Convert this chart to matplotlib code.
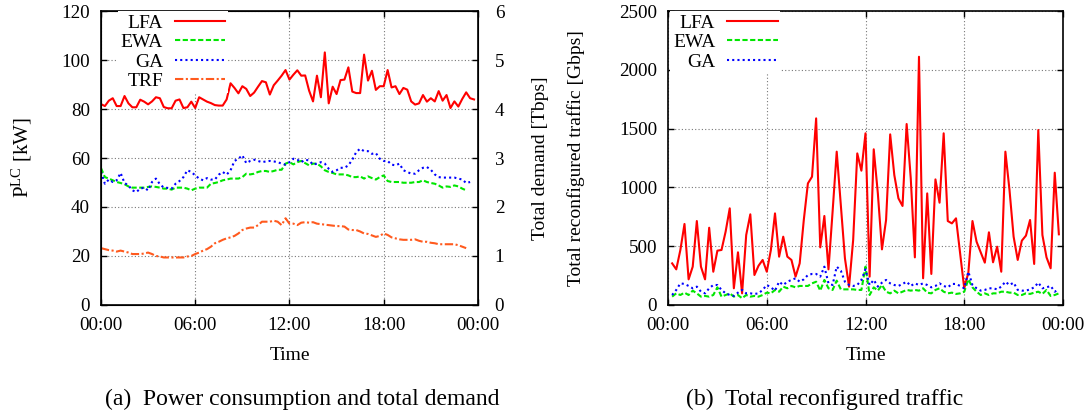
import numpy as np
import matplotlib
matplotlib.use("Agg")
import matplotlib.pyplot as plt

plt.rcParams['font.family'] = ['Liberation Serif', 'DejaVu Serif']
plt.rcParams['mathtext.fontset'] = 'custom'
plt.rcParams['mathtext.rm'] = 'Liberation Serif'
plt.rcParams['mathtext.it'] = 'Liberation Serif:italic'

# power consumption of the line cards [kW], one sample every 15 min from 00:00
lfa_kw = [82, 81.2, 83.4, 84.4, 81.2, 81.2, 85.3, 82.3, 80.7, 80.7, 83.8, 83, 81.9, 83.1,
          84.8, 84.4, 80.8, 80.3, 80.3, 83.4, 83.9, 80.4, 80.7, 83, 80.4, 84.8, 83.9, 83,
          82.4, 81.6, 81.4, 81.4, 83.9, 90.5, 88.6, 86.4, 89.3, 88.2, 85.3, 86.7, 89.1, 91.4,
          90.9, 85.9, 89.7, 91.6, 93.6, 95.9, 92, 94, 95.8, 93.6, 93.7, 87.5, 83.1, 93.6,
          84.8, 103.1, 82.3, 89.1, 86.1, 91.8, 92, 97, 87.1, 86.5, 86.5, 102.2, 91.6, 95.6,
          87.8, 89.3, 89.3, 95.9, 88.8, 89.3, 86.1, 88.6, 87.9, 83.1, 81.8, 82.3, 85.7, 83,
          84.4, 83.1, 87.3, 83.4, 85.7, 80.4, 83.1, 81, 84.1, 86.8, 84.4, 83.9]
ewa_kw = [55.9, 52.2, 51.6, 50.9, 50.2, 49.8, 49.3, 48.4, 47.9, 47.9, 47.9, 47.9, 48.2, 48.4,
          48.2, 47.9, 47.5, 47.5, 47.1, 47.9, 47.9, 47.9, 47.5, 46.8, 47.5, 47.9, 47.9, 47.9,
          49.5, 49.8, 50.2, 50.9, 51.2, 51.6, 51.6, 51.6, 52.2, 53.6, 53.3, 53.6, 54.3, 54.7,
          54.7, 54.3, 54.7, 55.2, 55.2, 57.7, 58.3, 57.4, 58.3, 58.8, 57.9, 57, 57.7, 57.7,
          56.6, 55, 54.3, 53.9, 53.3, 53.3, 53.3, 52.9, 52.2, 52.2, 52.5, 51.6, 52.5, 51.8,
          51.2, 52.2, 52.9, 50.6, 50.2, 50.2, 50.2, 49.9, 49.9, 49.9, 50.2, 50.2, 50.9, 50.2,
          49.8, 49.5, 48.8, 47.9, 48.4, 48.2, 48.8, 48.4, 47.5, 46.8]
ga_kw = [54.3, 49.5, 51.2, 50.2, 50.9, 53.9, 49.8, 48.8, 46.8, 46.1, 47.5, 47.9, 46.8, 50.2,
         51.6, 49.3, 47.9, 47.8, 47.5, 49.5, 50.6, 52.2, 55, 54.3, 52.9, 51.6, 50.9, 51.8,
         51.2, 51.2, 53.2, 54.3, 53.2, 55, 58.8, 59.7, 61.1, 57.9, 58.8, 59.3, 58.8, 58.3,
         58.6, 58.8, 58.6, 58.3, 57.7, 57.3, 58.3, 59.7, 59.3, 58.3, 59.3, 59, 57.3, 57.7,
         58.3, 57.7, 55.6, 54.3, 55, 56, 56, 57, 59.3, 62.4, 63.8, 62.8, 62.8, 61.7, 62,
         59.7, 58.8, 58.8, 57.3, 57, 57.7, 55, 54.3, 53.6, 53.6, 55, 56, 56.3, 55.2, 53.3,
         52.2, 52, 52, 52, 52, 51.6, 51.2, 49.8, 50.2]
# total traffic demand [Tbps]
trf_tbps = [1.16, 1.14, 1.12, 1.11, 1.09, 1.11, 1.09, 1.07, 1.04, 1.04, 1.04, 1.05, 1.07, 1.04,
            1.0, 0.99, 0.97, 0.97, 0.97, 0.97, 0.97, 0.97, 0.99, 1.0, 1.04, 1.07, 1.11, 1.14,
            1.19, 1.26, 1.29, 1.33, 1.36, 1.38, 1.41, 1.46, 1.53, 1.56, 1.58, 1.58, 1.63, 1.7,
            1.7, 1.7, 1.72, 1.7, 1.63, 1.77, 1.66, 1.66, 1.63, 1.68, 1.69, 1.68, 1.69, 1.66,
            1.65, 1.64, 1.63, 1.62, 1.61, 1.61, 1.6, 1.54, 1.53, 1.53, 1.5, 1.46, 1.45, 1.42,
            1.39, 1.41, 1.46, 1.43, 1.38, 1.36, 1.34, 1.33, 1.33, 1.33, 1.34, 1.31, 1.29, 1.29,
            1.27, 1.26, 1.24, 1.24, 1.24, 1.24, 1.24, 1.22, 1.19, 1.16]

# reconfigured traffic [Gbps], one sample every 15 min from 00:15
lfa_gbps = [354, 303, 468, 689, 218, 326, 714, 326, 218, 657, 283, 462, 468, 624, 822, 142,
            448, 99, 595, 771, 255, 334, 383, 283, 468, 779, 411, 581, 411, 383, 241, 354,
            723, 1034, 1091, 1587, 490, 757, 303, 794, 1304, 850, 397, 156, 553, 1289, 1142,
            1460, 241, 1324, 949, 473, 723, 1451, 1105, 907, 842, 1539, 1077, 405, 2111, 227,
            949, 264, 1068, 870, 1460, 714, 694, 737, 439, 142, 275, 714, 538, 448, 360, 618,
            363, 496, 283, 1304, 978, 581, 383, 547, 590, 723, 349, 1488, 595, 405, 312, 1125,
            601]
ewa_gbps = [71, 99, 85, 105, 85, 122, 99, 71, 77, 71, 85, 150, 71, 85, 99, 71, 85, 57, 85,
            71, 77, 71, 85, 105, 99, 128, 113, 156, 142, 162, 150, 162, 162, 162, 184, 198,
            122, 213, 142, 128, 207, 133, 133, 133, 133, 128, 128, 326, 85, 150, 122, 170, 113,
            99, 122, 99, 113, 128, 122, 128, 122, 142, 105, 99, 128, 142, 113, 99, 105, 94,
            99, 113, 218, 150, 113, 85, 99, 85, 99, 99, 113, 113, 105, 105, 85, 85, 99, 94,
            105, 113, 94, 128, 77, 85, 99]
ga_gbps = [85, 128, 184, 179, 162, 142, 156, 113, 99, 142, 170, 170, 128, 99, 85, 77, 105,
           128, 99, 99, 94, 99, 128, 170, 150, 122, 198, 170, 198, 213, 227, 198, 218, 255,
           264, 264, 241, 326, 184, 170, 326, 292, 198, 170, 162, 170, 213, 303, 170, 213,
           156, 190, 213, 184, 170, 162, 179, 198, 162, 184, 170, 184, 170, 150, 162, 184,
           162, 150, 179, 179, 162, 142, 283, 170, 142, 122, 128, 142, 142, 133, 156, 198,
           170, 190, 128, 122, 122, 133, 150, 190, 142, 150, 162, 113, 133]

hour_ticks = [0, 6, 12, 18, 24]
hour_labels = ["00:00", "06:00", "12:00", "18:00", "00:00"]

RED = "#ff0000"
GREEN = "#00e600"
BLUE = "#0000ff"
ORANGE = "#ff5a1e"
TICK_FS = 13.7
LEG_FS = 14
LAB_FS = 14


def style_axis(ax):
    ax.set_xlim(0, 24)
    ax.set_xticks(hour_ticks)
    ax.set_xticklabels(hour_labels)
    ax.tick_params(direction="in", length=4, width=1, labelsize=TICK_FS, pad=8)
    ax.tick_params(axis="x", top=True, pad=9)
    ax.grid(True, color="#777777", linestyle=(0, (1, 2)), linewidth=0.8)
    for s in ax.spines.values():
        s.set_linewidth(1.2)
    ax.set_xlabel("Time", fontsize=LAB_FS)
    ax.xaxis.set_label_coords(0.5, -0.143)


def add_legend(ax, x0, handles=None, labels=None):
    kw = dict(loc="upper left", bbox_to_anchor=(x0, 1.0), borderaxespad=0,
              markerfirst=False, alignment="right", fontsize=LEG_FS, handlelength=2.6,
              handletextpad=0.6, labelspacing=0.1, borderpad=0.15, fancybox=False,
              framealpha=1, edgecolor="none", facecolor="white")
    if handles is None:
        return ax.legend(**kw)
    return ax.legend(handles, labels, **kw)


fig = plt.figure(figsize=(10.88, 4.17), dpi=100)

# (a) power consumption + total demand
ax1 = fig.add_axes([0.0928, 0.2686, 0.3465, 0.705])
l1, = ax1.plot(np.arange(len(lfa_kw)) * 0.25, lfa_kw, color=RED, lw=1.5)
l2, = ax1.plot(np.arange(len(ewa_kw)) * 0.25, ewa_kw, color=GREEN, lw=1.5,
               linestyle=(0, (2.5, 1.2)))
l3, = ax1.plot(np.arange(len(ga_kw)) * 0.25, ga_kw, color=BLUE, lw=1.5,
               linestyle=(0, (1, 1.5)))
ax1.set_ylim(0, 120)
ax1.set_yticks(range(0, 121, 20))
style_axis(ax1)
ax1.set_ylabel(r"P$^{\mathrm{LC}}$ [kW]", fontsize=LAB_FS + 1)
ax1.yaxis.set_label_coords(-0.178, 0.5)

ax1b = ax1.twinx()
l4, = ax1b.plot(np.arange(len(trf_tbps)) * 0.25, trf_tbps, color=ORANGE, lw=1.5,
                linestyle=(0, (4, 1.2, 1, 1.2)))
ax1b.set_ylim(0, 6)
ax1b.set_yticks(range(0, 7))
ax1b.tick_params(direction="in", length=4, width=1, labelsize=TICK_FS, pad=12)
ax1b.set_ylabel("Total demand [Tbps]", fontsize=LAB_FS)
ax1b.yaxis.set_label_coords(1.143, 0.5)
add_legend(ax1b, 0.045, [l1, l2, l3, l4], ["LFA", "EWA", "GA", "TRF"])

# (b) reconfigured traffic
ax2 = fig.add_axes([0.614, 0.2686, 0.363, 0.705])
ax2.plot(0.25 + np.arange(len(lfa_gbps)) * 0.25, lfa_gbps, color=RED, lw=1.5, label="LFA")
ax2.plot(0.25 + np.arange(len(ewa_gbps)) * 0.25, ewa_gbps, color=GREEN, lw=1.5,
         linestyle=(0, (2.5, 1.2)), label="EWA")
ax2.plot(0.25 + np.arange(len(ga_gbps)) * 0.25, ga_gbps, color=BLUE, lw=1.5,
         linestyle=(0, (1, 1.5)), label="GA")
ax2.set_ylim(0, 2500)
ax2.set_yticks(range(0, 2501, 500))
style_axis(ax2)
ax2.tick_params(axis="y", right=True)
ax2.set_ylabel("Total reconfigured traffic [Gbps]", fontsize=LAB_FS)
ax2.yaxis.set_label_coords(-0.21, 0.5)
add_legend(ax2, 0.005)

fig.text(0.278, 0.041, "(a)  Power consumption and total demand", fontsize=17,
         ha="center", va="center")
fig.text(0.758, 0.041, "(b)  Total reconfigured traffic", fontsize=17,
         ha="center", va="center")

fig.savefig("out.png", dpi=100)
